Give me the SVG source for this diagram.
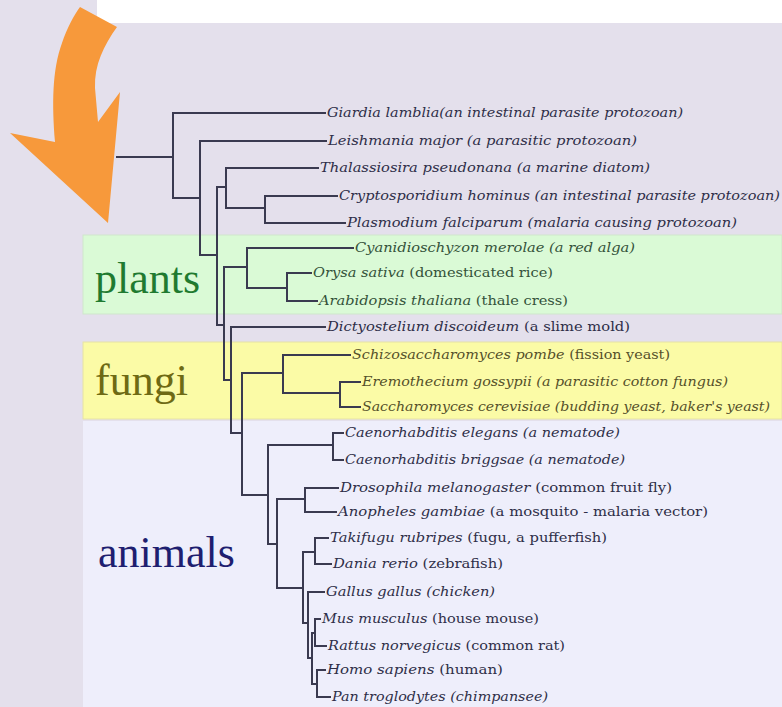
<svg xmlns="http://www.w3.org/2000/svg" width="782" height="707" viewBox="0 0 782 707">
<style>
.lb{font-family:"DejaVu Serif","Liberation Serif",serif;font-size:13px;font-style:italic;fill:#2e2e48}
.up{font-style:normal}
.g{fill:#34523a}
.y{fill:#55502a}
.big{font-family:"Liberation Serif","DejaVu Serif",serif;font-size:44px}
.ln{fill:none;stroke:#3a3a50;stroke-width:2;stroke-linecap:square}
</style>
<rect x="0" y="0" width="782" height="707" fill="#e4e0ec"/>
<rect x="97" y="0" width="685" height="23" fill="#ffffff"/>
<g id="bands">
<rect x="83" y="235" width="699" height="79" fill="#dafad6" stroke="#cfe6cc" stroke-width="1"/>
<rect x="83" y="342" width="699" height="77" fill="#fbfba6" stroke="#e6e2a6" stroke-width="1"/>
<rect x="83" y="421" width="699" height="286" fill="#eeeefb"/>
</g>
<g id="arrow">
<path d="M80 7 L117 27 C104 45 94 65 95 88 L98 122 L120 92 L108 223 L10 133 L55 142 C52 105 52 70 62 43 C67 28 74 15 80 7 Z" fill="#f7993b"/>
</g>
<g id="group-labels">
<text id="plants" class="big" x="95" y="293" fill="#1f7a30">plants</text>
<text id="fungi" class="big" x="95" y="395" fill="#6e6a14">fungi</text>
<text id="animals" class="big" x="98" y="567" fill="#1e1e70">animals</text>
</g>
<g id="connectors" class="ln">
<path d="M117 157H173M173 113V198M173 113H325M173 198H200"/>
<path d="M200 141V255M200 141H326M200 255H217"/>
<path d="M217 187V325M217 187H226M217 325H224"/>
<path d="M226 168V208M226 168H318M226 208H265"/>
<path d="M265 196V223M265 196H337M265 223H345"/>
<path d="M224 267V380M224 267H247M224 380H231"/>
<path d="M247 248V288M247 248H353M247 288H287"/>
<path d="M287 273V301M287 273H311M287 301H317"/>
<path d="M231 327V433M231 327H325M231 433H242"/>
<path d="M242 373V495M242 373H283M242 495H268"/>
<path d="M283 355V393M283 355H350M283 393H340"/>
<path d="M340 382V407M340 382H360M340 407H360"/>
<path d="M268 445V544M268 445H333M268 544H277"/>
<path d="M333 433V460M333 433H343M333 460H343"/>
<path d="M277 499V588M277 499H305M277 588H303"/>
<path d="M305 488V512M305 488H338M305 512H336"/>
<path d="M303 552V623M303 552H315M303 623H308"/>
<path d="M315 538V564M315 538H328M315 564H331"/>
<path d="M308 592V658M308 592H324M308 658H312"/>
<path d="M312 633V684M312 633H315M312 684H317"/>
<path d="M315 619V646M315 619H320M315 646H326"/>
<path d="M317 670V697M317 670H325M317 697H330"/>
</g>
<g id="leaves">
<g id="giardia"><text class="lb" x="327" y="117" textLength="356" lengthAdjust="spacingAndGlyphs">Giardia lamblia(an intestinal parasite protozoan)</text></g>
<g id="leishmania"><text class="lb" x="328" y="145" textLength="309" lengthAdjust="spacingAndGlyphs">Leishmania major (a parasitic protozoan)</text></g>
<g id="thalassiosira"><text class="lb" x="320" y="172" textLength="330" lengthAdjust="spacingAndGlyphs">Thalassiosira pseudonana (a marine diatom)</text></g>
<g id="cryptosporidium"><text class="lb" x="339" y="200" textLength="441" lengthAdjust="spacingAndGlyphs">Cryptosporidium hominus (an intestinal parasite protozoan)</text></g>
<g id="plasmodium"><text class="lb" x="347" y="227" textLength="390" lengthAdjust="spacingAndGlyphs">Plasmodium falciparum (malaria causing protozoan)</text></g>
<g id="cyanidioschyzon"><text class="lb g" x="355" y="252" textLength="280" lengthAdjust="spacingAndGlyphs">Cyanidioschyzon merolae (a red alga)</text></g>
<g id="orysa"><text class="lb g" x="313" y="277" textLength="240" lengthAdjust="spacingAndGlyphs">Orysa sativa<tspan class="up"> (domesticated rice)</tspan></text></g>
<g id="arabidopsis"><text class="lb g" x="319" y="305" textLength="249" lengthAdjust="spacingAndGlyphs">Arabidopsis thaliana<tspan class="up"> (thale cress)</tspan></text></g>
<g id="dictyostelium"><text class="lb" x="327" y="331" textLength="303" lengthAdjust="spacingAndGlyphs">Dictyostelium discoideum<tspan class="up"> (a slime mold)</tspan></text></g>
<g id="schizosaccharomyces"><text class="lb y" x="352" y="359" textLength="318" lengthAdjust="spacingAndGlyphs">Schizosaccharomyces pombe<tspan class="up"> (fission yeast)</tspan></text></g>
<g id="eremothecium"><text class="lb y" x="362" y="386" textLength="366" lengthAdjust="spacingAndGlyphs">Eremothecium gossypii (a parasitic cotton fungus)</text></g>
<g id="saccharomyces"><text class="lb y" x="362" y="411" textLength="408" lengthAdjust="spacingAndGlyphs">Saccharomyces cerevisiae (budding yeast, baker's yeast)</text></g>
<g id="c-elegans"><text class="lb" x="345" y="437" textLength="275" lengthAdjust="spacingAndGlyphs">Caenorhabditis elegans (a nematode)</text></g>
<g id="c-briggsae"><text class="lb" x="345" y="464" textLength="280" lengthAdjust="spacingAndGlyphs">Caenorhabditis briggsae (a nematode)</text></g>
<g id="drosophila"><text class="lb" x="340" y="492" textLength="332" lengthAdjust="spacingAndGlyphs">Drosophila melanogaster<tspan class="up"> (common fruit fly)</tspan></text></g>
<g id="anopheles"><text class="lb" x="338" y="516" textLength="370" lengthAdjust="spacingAndGlyphs">Anopheles gambiae<tspan class="up"> (a mosquito - malaria vector)</tspan></text></g>
<g id="takifugu"><text class="lb" x="330" y="542" textLength="277" lengthAdjust="spacingAndGlyphs">Takifugu rubripes<tspan class="up"> (fugu, a pufferfish)</tspan></text></g>
<g id="dania"><text class="lb" x="333" y="568" textLength="170" lengthAdjust="spacingAndGlyphs">Dania rerio<tspan class="up"> (zebrafish)</tspan></text></g>
<g id="gallus"><text class="lb" x="326" y="596" textLength="169" lengthAdjust="spacingAndGlyphs">Gallus gallus (chicken)</text></g>
<g id="mus"><text class="lb" x="322" y="623" textLength="217" lengthAdjust="spacingAndGlyphs">Mus musculus<tspan class="up"> (house mouse)</tspan></text></g>
<g id="rattus"><text class="lb" x="328" y="650" textLength="237" lengthAdjust="spacingAndGlyphs">Rattus norvegicus<tspan class="up"> (common rat)</tspan></text></g>
<g id="homo"><text class="lb" x="327" y="674" textLength="176" lengthAdjust="spacingAndGlyphs">Homo sapiens<tspan class="up"> (human)</tspan></text></g>
<g id="pan"><text class="lb" x="332" y="701" textLength="216" lengthAdjust="spacingAndGlyphs">Pan troglodytes (chimpansee)</text></g>
</g>
</svg>
